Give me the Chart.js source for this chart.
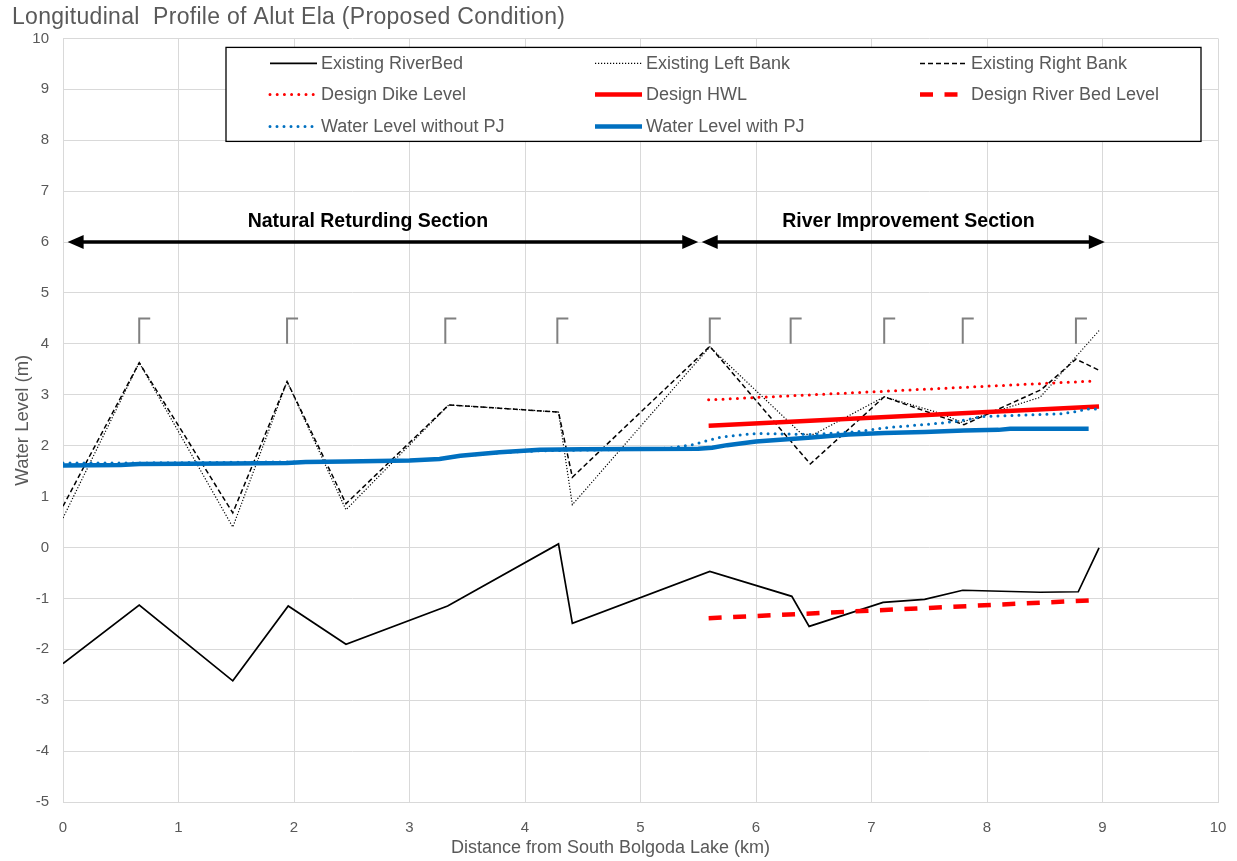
<!DOCTYPE html>
<html>
<head>
<meta charset="utf-8">
<title>Longitudinal Profile of Alut Ela</title>
<script src="https://cdn.jsdelivr.net/npm/chart.js@4.4.1/dist/chart.umd.min.js"></script>
<style>
  body { margin: 0; background: #fff; }
</style>
</head>
<body>
<canvas id="profile" width="1237" height="861"></canvas>
<script>
// chainage (km) / level (m) pairs for each series
const riverBed = [[0, -2.28], [0.66, -1.13], [1.47, -2.62], [1.95, -1.15], [2.45, -1.90], [3.33, -1.15],
  [4.29, 0.07], [4.41, -1.49], [5.60, -0.47], [6.31, -0.96], [6.46, -1.55], [7.10, -1.08], [7.46, -1.02],
  [7.79, -0.84], [8.46, -0.88], [8.79, -0.87], [8.97, -0.01]];
const leftBank = [[0, 0.58], [0.66, 3.63], [1.47, 0.40], [1.94, 3.26], [2.45, 0.74], [3.34, 2.80],
  [4.29, 2.66], [4.41, 0.84], [5.60, 3.94], [6.40, 2.22], [6.50, 2.22], [7.11, 2.96], [7.59, 2.64],
  [7.78, 2.46], [8.46, 2.95], [8.97, 4.26]];
const rightBank = [[0, 0.81], [0.66, 3.63], [1.47, 0.68], [1.94, 3.26], [2.45, 0.86], [3.34, 2.80],
  [4.29, 2.66], [4.41, 1.38], [5.60, 3.95], [6.47, 1.64], [7.11, 2.96], [7.80, 2.41], [8.47, 3.10],
  [8.77, 3.70], [8.98, 3.47]];
const dikeLevel = [[5.59, 2.90], [8.92, 3.27]];
const designHWL = [[5.59, 2.39], [8.97, 2.77]];
const designBed = [[5.59, -1.39], [8.97, -1.03]];
const wlWithoutPJ = [[0, 1.66], [0.66, 1.66], [1.94, 1.68], [2.45, 1.69], [3.0, 1.71], [3.26, 1.74],
  [3.44, 1.80], [3.78, 1.86], [4.13, 1.90], [4.41, 1.91], [5.0, 1.93], [5.25, 1.95], [5.45, 2.02],
  [5.70, 2.17], [6.0, 2.24], [6.48, 2.22], [6.90, 2.28], [7.11, 2.35], [7.59, 2.44], [7.80, 2.50],
  [7.95, 2.57], [8.65, 2.63], [8.80, 2.68], [8.85, 2.72], [8.97, 2.72]];
const wlWithPJ = [[0, 1.61], [0.5, 1.62], [0.66, 1.64], [1.47, 1.65], [1.94, 1.66], [2.10, 1.68],
  [2.45, 1.69], [3.0, 1.71], [3.26, 1.74], [3.44, 1.80], [3.78, 1.87], [4.13, 1.92], [4.5, 1.93],
  [5.5, 1.94], [5.62, 1.96], [5.75, 2.01], [6.0, 2.08], [6.3, 2.13], [6.48, 2.16], [6.8, 2.22],
  [7.11, 2.25], [7.46, 2.27], [7.8, 2.30], [8.1, 2.31], [8.2, 2.33], [8.88, 2.33]];

// cross section locations and reach arrows
const sectionKm = [0.66, 1.94, 3.31, 4.28, 5.60, 6.30, 7.11, 7.79, 8.77];
const sectionBase = 4.0, sectionTop = 4.5;
const reachNames = ['Natural Returding Section', 'River Improvement Section'];
const reachFrom = [0.04, 5.53];
const reachTo = [5.50, 9.02];
const reachLabelKm = [2.64, 7.32];
const reachLevel = 6, reachLabelLevel = 6.4;

const chartTitle = 'Longitudinal  Profile of Alut Ela (Proposed Condition)';
const xTitle = 'Distance from South Bolgoda Lake (km)';

const blue = '#0070C0', red = '#FF0000', grey = '#595959';
const FONT = '"Liberation Sans", Arial, sans-serif';

function series(label, pts, color, width, dash, cap) {
  return {
    label: label,
    data: pts.map(p => ({ x: p[0], y: p[1] })),
    borderColor: color,
    backgroundColor: color,
    borderWidth: width,
    borderDash: dash || [],
    borderCapStyle: cap || 'butt',
    showLine: true,
    pointRadius: 0,
    pointHoverRadius: 0,
    tension: 0,
    fill: false
  };
}

const datasets = [
  series('Existing RiverBed', riverBed, '#000', 1.7),
  series('Existing Left Bank', leftBank, '#000', 1.2, [1.2, 1.8]),
  series('Existing Right Bank', rightBank, '#000', 1.5, [5, 3]),
  series('Design Dike Level', dikeLevel, red, 3, [0, 7.2], 'round'),
  series('Design HWL', designHWL, red, 4.5),
  series('Design River Bed Level', designBed, red, 4.5, [13, 11.5]),
  series('Water Level without PJ', wlWithoutPJ, blue, 3, [0, 7], 'round'),
  series('Water Level with PJ', wlWithPJ, blue, 4.5)
];
// later series sit on top
datasets.forEach((d, i) => { d.order = datasets.length - i; });

// legend box: offsets from the plot area corner
const legendBox = { left: 163, top: 9, width: 975, height: 94 };
const legendCols = [44, 369, 694];
const legendRows = [16, 47, 79];

const overlays = {
  id: 'overlays',
  afterDatasetsDraw(chart) {
    const ctx = chart.ctx;
    const xs = chart.scales.x, ys = chart.scales.y;
    const area = chart.chartArea;
    ctx.save();

    // cross section marks
    ctx.strokeStyle = '#808080';
    ctx.lineWidth = 2;
    ctx.lineCap = 'butt';
    ctx.setLineDash([]);
    sectionKm.forEach(km => {
      const px = xs.getPixelForValue(km);
      ctx.beginPath();
      ctx.moveTo(px, ys.getPixelForValue(sectionBase));
      ctx.lineTo(px, ys.getPixelForValue(sectionTop));
      ctx.lineTo(px + 11, ys.getPixelForValue(sectionTop));
      ctx.stroke();
    });

    // reach arrows
    ctx.strokeStyle = '#000';
    ctx.fillStyle = '#000';
    ctx.lineWidth = 3.5;
    const head = 16, half = 7;
    reachNames.forEach((name, i) => {
      const x1 = xs.getPixelForValue(reachFrom[i]);
      const x2 = xs.getPixelForValue(reachTo[i]);
      const y = ys.getPixelForValue(reachLevel);
      ctx.beginPath();
      ctx.moveTo(x1 + head - 2, y);
      ctx.lineTo(x2 - head + 2, y);
      ctx.stroke();
      ctx.beginPath();
      ctx.moveTo(x1, y); ctx.lineTo(x1 + head, y - half); ctx.lineTo(x1 + head, y + half); ctx.closePath();
      ctx.fill();
      ctx.beginPath();
      ctx.moveTo(x2, y); ctx.lineTo(x2 - head, y - half); ctx.lineTo(x2 - head, y + half); ctx.closePath();
      ctx.fill();
      ctx.font = 'bold 19.5px ' + FONT;
      ctx.textAlign = 'center';
      ctx.textBaseline = 'middle';
      ctx.fillText(name, xs.getPixelForValue(reachLabelKm[i]), ys.getPixelForValue(reachLabelLevel));
    });

    // legend
    const bx = area.left + legendBox.left, by = area.top + legendBox.top;
    ctx.fillStyle = '#fff';
    ctx.fillRect(bx, by, legendBox.width, legendBox.height);
    ctx.strokeStyle = '#000';
    ctx.lineWidth = 1.3;
    ctx.strokeRect(bx, by, legendBox.width, legendBox.height);
    ctx.font = '18px ' + FONT;
    ctx.textAlign = 'left';
    ctx.textBaseline = 'middle';
    chart.data.datasets.forEach((d, i) => {
      const sx = bx + legendCols[i % 3];
      const sy = by + legendRows[Math.floor(i / 3)];
      ctx.strokeStyle = d.borderColor;
      ctx.lineWidth = d.borderWidth;
      ctx.lineCap = d.borderCapStyle;
      ctx.setLineDash(d.borderDash);
      ctx.beginPath();
      ctx.moveTo(sx, sy);
      ctx.lineTo(sx + 47, sy);
      ctx.stroke();
      ctx.setLineDash([]);
      ctx.fillStyle = grey;
      ctx.fillText(d.label, sx + 51, sy + 1);
    });

    // x axis title, centred under the whole chart
    ctx.font = '18px ' + FONT;
    ctx.fillStyle = grey;
    ctx.textAlign = 'center';
    ctx.fillText(xTitle, chart.width / 2 - 8, area.bottom + 46);

    // chart title
    ctx.font = '23px ' + FONT;
    ctx.letterSpacing = '0.3px';
    ctx.textAlign = 'left';
    ctx.fillText(chartTitle, 12, 18);
    ctx.restore();
  }
};

Chart.defaults.font.family = FONT;
Chart.defaults.color = grey;

new Chart(document.getElementById('profile'), {
  type: 'scatter',
  data: { datasets: datasets },
  options: {
    responsive: false,
    animation: false,
    layout: { padding: { left: 12, right: 19, top: 38.4, bottom: 0 } },
    plugins: {
      legend: { display: false },
      tooltip: { enabled: false },
      title: { display: false }
    },
    scales: {
      x: {
        type: 'linear',
        min: 0,
        max: 10,
        ticks: { stepSize: 1, color: grey, font: { size: 15, lineHeight: 2.1 }, padding: 10 },
        grid: { color: '#d9d9d9', drawTicks: false },
        border: { color: '#d9d9d9' },
        afterFit(scale) { scale.height = 59; }
      },
      y: {
        min: -5,
        max: 10,
        ticks: { stepSize: 1, color: grey, font: { size: 15 }, padding: 14 },
        grid: { color: '#d9d9d9', drawTicks: false },
        border: { color: '#d9d9d9' },
        title: { display: true, text: 'Water Level (m)', color: grey, font: { size: 18.5 }, padding: { top: 0 } },
        afterFit(scale) { scale.width = 51; }
      }
    }
  },
  plugins: [overlays]
});
</script>
</body>
</html>
